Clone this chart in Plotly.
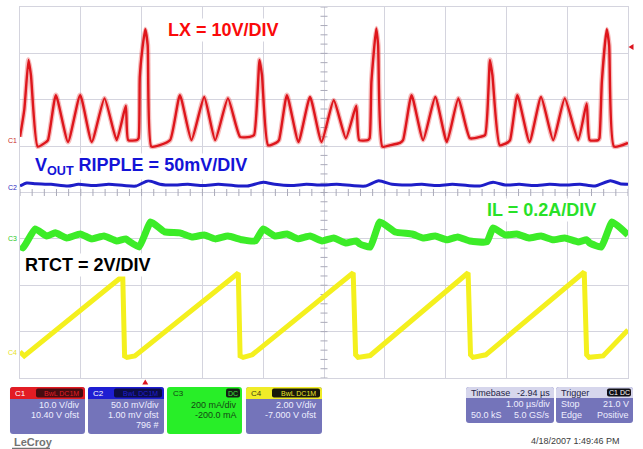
import numpy as np
import plotly.graph_objects as go

# ---------------- channel setup (as shown in the channel boxes) ----------------
C1_SCALE, C1_OFST = 10.0, 10.40      # LX, V/div and V offset
C2_SCALE, C2_OFST = 50.0, 1.00       # VOUT ripple, mV/div and mV offset
C3_SCALE, C3_OFST = 0.200, -0.200    # IL, A/div and A offset
C4_SCALE, C4_OFST = 2.00, -7.000     # RTCT, V/div and V offset
TIMEBASE_DELAY = -2.94               # us
TIME_PER_DIV = 1.00                  # us/div
TRIG_LEVEL = 21.0                    # V on C1

# ---------------- waveforms (time in us relative to trigger) ----------------
lx_t = [-2.06, -1.99, -1.92, -1.88, -1.77, -1.65, -1.60, -1.47, -1.27, -1.07,
        -0.88, -0.67, -0.47, -0.32, -0.28, -0.14, -0.11, -0.09, -0.05, 0.00,
        0.04, 0.10, 0.24, 0.41, 0.57, 0.76, 0.97, 1.15, 1.36, 1.56,
        1.72, 1.79, 1.88, 1.92, 2.02, 2.15, 2.20, 2.33, 2.52, 2.71,
        2.90, 3.10, 3.30, 3.47, 3.52, 3.66, 3.69, 3.72, 3.80, 3.83,
        3.90, 4.03, 4.19, 4.24, 4.38, 4.57, 4.77, 4.96, 5.15, 5.34,
        5.51, 5.59, 5.67, 5.71, 5.83, 5.95, 6.00, 6.12, 6.32, 6.51,
        6.71, 6.90, 7.12, 7.26, 7.31, 7.45, 7.47, 7.51, 7.59, 7.63,
        7.71, 7.94]
lx_v = [1.6, 7.4, 18.2, 14.9, -0.5, 0.3, 0.9, 10.6, 0.5, 10.6,
        0.5, 9.9, 0.9, 8.3, 0.9, 0.9, 1.3, 14.5, 20.3, 24.8,
        21.4, -0.5, -0.2, 0.9, 10.6, 0.9, 10.2, 0.9, 9.9, 1.6,
        1.6, 2.0, 18.2, 14.9, -0.2, 0.3, 0.9, 10.6, 0.5, 10.2,
        0.5, 9.5, 1.3, 8.3, 0.9, 0.9, 1.3, 13.5, 25.0, 21.4,
        -0.5, -0.2, 0.3, 0.9, 10.6, 0.9, 10.2, 0.5, 9.9, 1.3,
        1.6, 2.0, 18.2, 14.9, -0.2, 0.3, 0.9, 10.6, 0.5, 10.2,
        0.9, 9.9, 0.9, 8.8, 0.9, 0.9, 1.3, 13.5, 24.8, 21.4,
        -0.5, 0.3]

vout_t = [-2.06, -1.95, -1.80, -1.55, -1.27, -1.10, -0.85, -0.60, -0.35, -0.15,
          0.05, 0.24, 0.45, 0.70, 0.95, 1.20, 1.45, 1.68, 1.94, 2.13,
          2.40, 2.65, 2.90, 3.15, 3.40, 3.62, 3.84, 4.06, 4.30, 4.55,
          4.80, 5.05, 5.30, 5.50, 5.72, 5.92, 6.15, 6.40, 6.65, 6.90,
          7.15, 7.40, 7.65, 7.81, 7.94]
vout_mv = [6.0, 9.2, 8.5, 7.8, 6.0, 7.8, 6.5, 7.8, 6.5, 6.0,
           11.7, 8.0, 7.0, 7.8, 6.5, 7.8, 6.5, 6.0, 10.0, 7.8,
           6.5, 7.8, 7.0, 7.8, 6.5, 6.0, 11.7, 7.8, 7.0, 7.8,
           6.5, 7.8, 6.5, 6.0, 10.0, 7.0, 7.8, 6.5, 7.8, 7.0,
           7.8, 6.0, 11.7, 8.5, 8.0]

il_t = [-2.06, -2.01, -1.81, -1.62, -1.48, -1.29, -1.07, -0.88, -0.68, -0.47,
        -0.32, -0.25, -0.10, 0.09, 0.32, 0.57, 0.77, 0.97, 1.15, 1.36,
        1.59, 1.81, 1.94, 2.13, 2.33, 2.51, 2.71, 2.91, 3.10, 3.30,
        3.47, 3.53, 3.70, 3.86, 4.11, 4.39, 4.57, 4.77, 4.96, 5.14,
        5.34, 5.62, 5.72, 5.92, 6.11, 6.31, 6.51, 6.71, 6.90, 7.12,
        7.26, 7.31, 7.50, 7.68, 7.94]
il_a = [-0.031, -0.039, 0.043, 0.012, 0.026, 0.004, 0.021, 0.000, 0.012, -0.009,
        0.000, -0.013, -0.035, 0.073, 0.030, 0.026, 0.008, 0.017, 0.000, 0.012,
        -0.004, -0.009, 0.043, 0.012, 0.021, 0.000, 0.012, -0.009, 0.004, -0.018,
        -0.009, -0.022, -0.035, 0.073, 0.030, 0.021, 0.004, 0.012, -0.004, 0.008,
        -0.009, -0.013, 0.047, 0.017, 0.021, 0.004, 0.012, -0.004, 0.004, -0.013,
        -0.004, -0.018, -0.035, 0.073, 0.017]

rtct_t = [-2.06, -1.99, -0.37, -0.34, -0.30, -0.17, 1.53, 1.56, 1.61, 1.76,
          3.42, 3.46, 3.50, 3.70, 5.31, 5.35, 5.39, 5.60, 7.22, 7.26,
          7.30, 7.53, 7.94]
rtct_v = [0.13, -0.05, 3.40, -0.05, -0.11, -0.05, 3.53, -0.05, -0.11, 0.00,
          3.54, 0.00, -0.11, -0.03, 3.54, 0.00, -0.11, 0.00, 3.57, 0.00,
          -0.11, -0.05, 1.07]


def to_div(vals, scale, ofst):
    return [(v + ofst) / scale for v in vals]


# ---------------- screen geometry ----------------
W, H = 643, 449
L, T, R, B = 20, 7, 628, 378
t_left = -(5 + TIMEBASE_DELAY) * TIME_PER_DIV
t_right = t_left + 10 * TIME_PER_DIV
t_center = t_left + 5 * TIME_PER_DIV


def fx(x):
    return (x - L) / (R - L)


def fy(y):
    return (B - y) / (B - T)


FONT = "Liberation Sans, Arial, sans-serif"
GRID = "rgb(212,212,222)"

fig = go.Figure()

# minor ticks on the centre cross
hx = np.arange(t_left, t_right + 1e-9, TIME_PER_DIV / 5)
vy = np.arange(-4, 4 + 1e-9, 0.2)
fig.add_trace(go.Scatter(x=hx, y=np.zeros_like(hx), mode="markers",
                         marker=dict(symbol="line-ns", size=5, line=dict(width=1, color="rgb(170,170,185)")),
                         hoverinfo="skip", showlegend=False))
fig.add_trace(go.Scatter(x=np.full_like(vy, t_center), y=vy, mode="markers",
                         marker=dict(symbol="line-ew", size=5, line=dict(width=1, color="rgb(170,170,185)")),
                         hoverinfo="skip", showlegend=False))

# channel traces
fig.add_trace(go.Scatter(x=rtct_t, y=to_div(rtct_v, C4_SCALE, C4_OFST), mode="lines",
                         line=dict(color="rgb(244,240,30)", width=5), hoverinfo="skip", showlegend=False))
fig.add_trace(go.Scatter(x=il_t, y=to_div(il_a, C3_SCALE, C3_OFST), mode="lines",
                         line=dict(color="rgb(60,236,40)", width=7, shape="spline", smoothing=0.4),
                         hoverinfo="skip", showlegend=False))
fig.add_trace(go.Scatter(x=vout_t, y=to_div(vout_mv, C2_SCALE, C2_OFST), mode="lines",
                         line=dict(color="rgb(30,30,200)", width=3, shape="spline", smoothing=0.6),
                         hoverinfo="skip", showlegend=False))
# faint halo then the main LX trace
lx_div = to_div(lx_v, C1_SCALE, C1_OFST)
fig.add_trace(go.Scatter(x=lx_t, y=lx_div, mode="lines",
                         line=dict(color="rgba(230,60,60,0.35)", width=5, shape="spline", smoothing=0.5),
                         hoverinfo="skip", showlegend=False))
fig.add_trace(go.Scatter(x=lx_t, y=lx_div, mode="lines",
                         line=dict(color="rgb(222,22,28)", width=2.4, shape="spline", smoothing=0.5),
                         hoverinfo="skip", showlegend=False))

ann = []
shapes = []


def text(x, y, s, size=9, color="white", anchor="right", weight="normal", bg=None):
    d = dict(x=fx(x), y=fy(y), xref="paper", yref="paper", text=s, showarrow=False,
             xanchor=anchor, yanchor="middle",
             font=dict(family=FONT, size=size, color=color, weight=weight))
    if bg:
        d.update(bgcolor=bg, borderpad=1)
    ann.append(d)


def box_path(x0, y0, x1, y1, r=3, top=True, bottom=True):
    X = lambda v: f"{fx(v):.5f}"
    Y = lambda v: f"{fy(v):.5f}"
    p = []
    if top:
        p.append(f"M{X(x0)},{Y(y0 + r)} Q{X(x0)},{Y(y0)} {X(x0 + r)},{Y(y0)}")
        p.append(f"L{X(x1 - r)},{Y(y0)} Q{X(x1)},{Y(y0)} {X(x1)},{Y(y0 + r)}")
    else:
        p.append(f"M{X(x0)},{Y(y0)} L{X(x1)},{Y(y0)}")
    if bottom:
        p.append(f"L{X(x1)},{Y(y1 - r)} Q{X(x1)},{Y(y1)} {X(x1 - r)},{Y(y1)}")
        p.append(f"L{X(x0 + r)},{Y(y1)} Q{X(x0)},{Y(y1)} {X(x0)},{Y(y1 - r)} Z")
    else:
        p.append(f"L{X(x1)},{Y(y1)} L{X(x0)},{Y(y1)} Z")
    return " ".join(p)


def add_box(x0, y0, x1, y1, fill, top=True, bottom=True, r=3):
    shapes.append(dict(type="path", xref="paper", yref="paper",
                       path=box_path(x0, y0, x1, y1, r, top, bottom),
                       fillcolor=fill, line=dict(width=0), layer="above"))


BODY = "rgb(116,116,186)"
BODY_TXT = "rgb(238,238,255)"

# channel boxes
chan_boxes = [
    (10, 85, "rgb(226,28,36)", "rgb(70,12,16)", "C1", "white",
     ["10.0 V/div", "10.40 V ofst"]),
    (88, 164, "rgb(30,30,210)", "rgb(12,12,70)", "C2", "white",
     ["50.0 mV/div", "1.00 mV ofst", "796 #"]),
    (246, 322, "rgb(240,236,40)", "rgb(25,25,10)", "C4", "rgb(60,60,20)",
     ["2.00 V/div", "-7.000 V ofst"]),
]
for x0, x1, hc, badge, name, ncol, lines in chan_boxes:
    add_box(x0, 387, x1, 434, BODY)
    add_box(x0, 387, x1, 399, hc, top=True, bottom=False)
    add_box(x0 + 26, 388.5, x1 - 2, 397.5, badge, r=2)
    text(x0 + 3, 393, name, size=8, color=ncol, anchor="left")
    text(x1 - 4, 393, "BwL DC1M", size=7,
         color="rgb(235,230,40)" if name == "C4" else hc, anchor="right")
    for i, s in enumerate(lines):
        text(x1 - 3, 405 + 10 * i, s, color=BODY_TXT)

# C3 box is all green
add_box(167, 387, 242, 434, "rgb(40,238,40)")
add_box(226, 388.5, 240, 397.5, "rgb(20,30,20)", r=2)
text(171, 393, "C3", size=8, color="rgb(20,60,20)", anchor="left")
text(233, 393, "DC", size=7, color="rgb(60,230,60)", anchor="center")
text(239, 405, "200 mA/div", color="rgb(20,70,20)")
text(239, 415, "-200.0 mA", color="rgb(20,70,20)")

# timebase box
HEAD = "rgb(214,214,236)"
add_box(466, 387, 554, 423, BODY)
add_box(466, 387, 554, 398, HEAD, top=True, bottom=False)
text(469, 392.5, "Timebase", color="rgb(30,30,70)", anchor="left")
text(552, 392.5, f"{TIMEBASE_DELAY:.2f} µs", color="rgb(30,30,70)")
text(552, 404, f"{TIME_PER_DIV:.2f} µs/div", color=BODY_TXT)
text(469, 415, "50.0 kS", color=BODY_TXT, anchor="left")
text(552, 415, "5.0 GS/s", color=BODY_TXT)

# trigger box
add_box(556, 387, 633, 423, BODY)
add_box(556, 387, 633, 398, HEAD, top=True, bottom=False)
add_box(607, 388.5, 631, 396.5, "rgb(15,15,20)", r=2)
text(559, 392.5, "Trigger", color="rgb(30,30,70)", anchor="left")
text(619, 392.5, "C1 DC", size=7, color="white", anchor="center")
text(559, 404, "Stop", color=BODY_TXT, anchor="left")
text(631, 404, f"{TRIG_LEVEL:.1f} V", color=BODY_TXT)
text(559, 415, "Edge", color=BODY_TXT, anchor="left")
text(631, 415, "Positive", color=BODY_TXT)

# footer logo with underline bar, and the date stamp
text(12, 442, "LeCroy", size=11, color="rgb(115,115,115)", anchor="left", weight="bold")
shapes.append(dict(type="line", xref="paper", yref="paper",
                   x0=fx(12), x1=fx(50), y0=fy(448.5), y1=fy(448.5),
                   line=dict(color="rgb(115,115,115)", width=1.5)))
text(622, 441, "4/18/2007 1:49:46 PM", size=9, color="rgb(60,60,60)")

# ground markers at left edge
text(6, 140, "C1", size=7, color="rgb(200,40,40)", anchor="left")
text(6, 187, "C2", size=7, color="rgb(40,40,190)", anchor="left")
text(6, 238, "C3", size=7, color="rgb(40,200,40)", anchor="left")
text(6, 352, "C4", size=7, color="rgb(230,225,40)", anchor="left")

# trigger level / time markers
trig_y_px = 192.5 - (TRIG_LEVEL + C1_OFST) / C1_SCALE * (B - T) / 8
shapes.append(dict(type="path", xref="paper", yref="paper",
                   path=f"M{fx(628.5)},{fy(trig_y_px)} L{fx(633.5)},{fy(trig_y_px - 3)} "
                        f"L{fx(633.5)},{fy(trig_y_px + 3)} Z",
                   fillcolor="rgb(220,20,30)", line=dict(width=0)))
trig_x_px = L + (0 - t_left) / TIME_PER_DIV * (R - L) / 10
shapes.append(dict(type="path", xref="paper", yref="paper",
                   path=f"M{fx(trig_x_px)},{fy(379.5)} L{fx(trig_x_px - 3)},{fy(384.5)} "
                        f"L{fx(trig_x_px + 3)},{fy(384.5)} Z",
                   fillcolor="rgb(220,20,30)", line=dict(width=0)))

# channel captions
text(223.5, 30, "LX = 10V/DIV", size=18, color="rgb(250,10,10)", anchor="center",
     weight="bold", bg="white")
text(33, 166, "V<sub>OUT</sub> RIPPLE = 50mV/DIV", size=18, color="rgb(20,20,215)",
     anchor="left", weight="bold", bg="white")
text(541, 210, "IL = 0.2A/DIV", size=18, color="rgb(40,225,40)", anchor="center",
     weight="bold", bg="white")
text(87.5, 265, "RTCT = 2V/DIV", size=18, color="black", anchor="center",
     weight="bold", bg="white")

fig.update_layout(
    width=W, height=H,
    margin=dict(l=L, r=W - R, t=T, b=H - B),
    paper_bgcolor="white", plot_bgcolor="white",
    xaxis=dict(range=[t_left, t_right], tick0=t_left, dtick=TIME_PER_DIV,
               showgrid=True, gridcolor=GRID, gridwidth=1, zeroline=False,
               showticklabels=False, ticks="", showline=True, linecolor=GRID,
               mirror=True, fixedrange=True),
    yaxis=dict(range=[-4, 4], tick0=-4, dtick=1,
               showgrid=True, gridcolor=GRID, gridwidth=1, zeroline=False,
               showticklabels=False, ticks="", showline=True, linecolor=GRID,
               mirror=True, fixedrange=True),
    annotations=ann, shapes=shapes, showlegend=False,
)

fig.write_html("out.html")
